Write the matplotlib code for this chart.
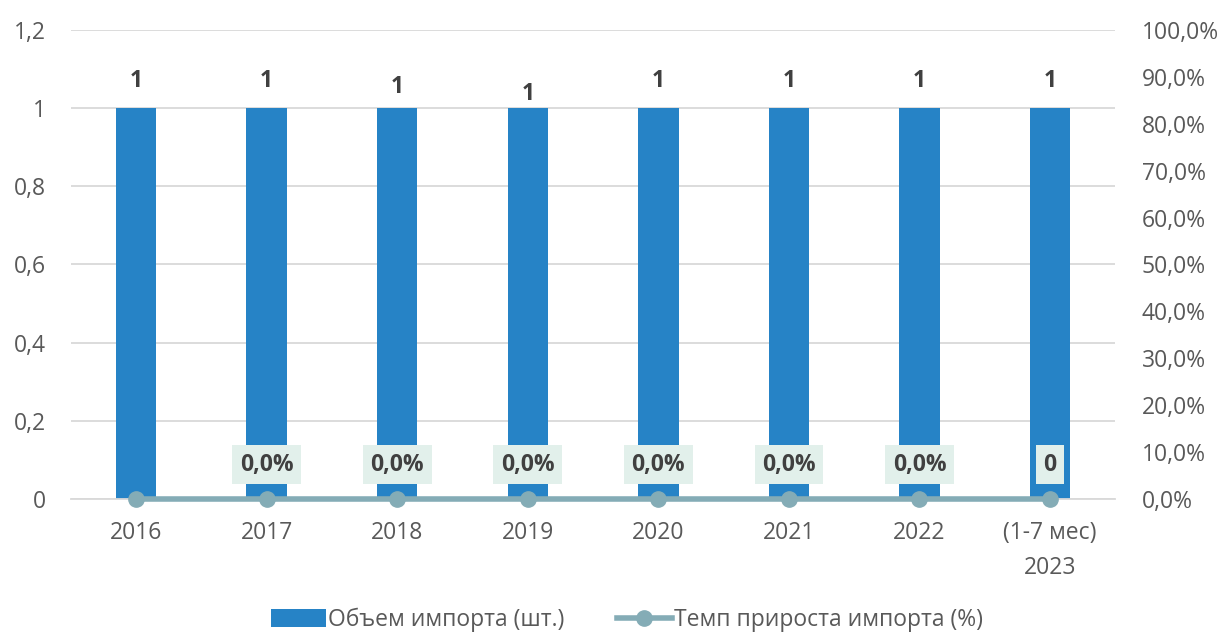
import numpy as np
import matplotlib.pyplot as plt
from matplotlib.ticker import FuncFormatter

plt.rcParams['font.family'] = ['Open Sans', 'DejaVu Sans']

# data
years = ['2016', '2017', '2018', '2019', '2020', '2021', '2022', '(1-7 мес)\n2023']
volume = [1, 1, 1, 1, 1, 1, 1, 1]
growth = [0, 0, 0, 0, 0, 0, 0, 0]
growth_labels = ['', '0,0%', '0,0%', '0,0%', '0,0%', '0,0%', '0,0%', '0']

bar_color = '#2683C6'
line_color = '#84ACB6'
text_color = '#595959'
fs = 16.5

fig = plt.figure(figsize=(12.22, 6.33), dpi=100)
ax = fig.add_axes([0.0579, 0.2117, 0.8548, 0.7409])
ax2 = ax.twinx()

x = np.arange(len(years))
bars = ax.bar(x, volume, width=0.31, color=bar_color, zorder=2, label='Объем импорта (шт.)')

ax.set_xlim(-0.5, len(years) - 0.5)
ax.set_ylim(0, 1.2)
ax.set_yticks(np.arange(0, 1.21, 0.2))
ax.yaxis.set_major_formatter(FuncFormatter(lambda v, p: ('%g' % round(v, 1)).replace('.', ',')))
ax.grid(axis='y', color='#D9D9D9', linewidth=1.3, zorder=0)
ax.set_axisbelow(True)
for s in ['top', 'right', 'left']:
    ax.spines[s].set_visible(False)
ax.spines['bottom'].set_color('#D9D9D9')
ax.spines['bottom'].set_linewidth(1.3)
ax.set_xticks(x)
ax.set_xticklabels(years, linespacing=1.6)
ax.tick_params(axis='y', length=0, labelsize=fs, colors=text_color, pad=18)
ax.tick_params(axis='x', length=0, labelsize=fs, colors=text_color, pad=16)

# value labels over bars (Excel placed a couple of them slightly lower)
label_dy = [0.07, 0.07, 0.055, 0.035, 0.07, 0.07, 0.07, 0.07]
for xi, v, dy in zip(x, volume, label_dy):
    ax.text(xi, v + dy, str(v), ha='center', va='center', fontsize=fs,
            fontweight='bold', color='#404040')

# growth line on secondary axis
line, = ax2.plot(x, growth, color=line_color, linewidth=4, marker='o',
                 markersize=11, zorder=3, clip_on=False, label='Темп прироста импорта (%)')
ax2.set_ylim(0, 1.0)
ax2.set_yticks(np.arange(0, 1.01, 0.1))
ax2.yaxis.set_major_formatter(FuncFormatter(lambda v, p: ('%.1f%%' % (v * 100)).replace('.', ',')))
ax2.tick_params(axis='y', length=0, labelsize=fs, colors=text_color, pad=19)
for s in ['top', 'right', 'left', 'bottom']:
    ax2.spines[s].set_visible(False)

for xi, g, lab in zip(x, growth, growth_labels):
    if lab:
        ax2.text(xi, g + 0.073, lab, ha='center', va='center', fontsize=fs,
                 fontweight='bold', color='#404040', zorder=4,
                 bbox=dict(boxstyle='square,pad=0.33', facecolor='#E2F0EB', edgecolor='none'))

fig.legend([bars, line], ['Объем импорта (шт.)', 'Темп прироста импорта (%)'],
           loc='lower center', bbox_to_anchor=(0.513, -0.031), ncol=2, frameon=False,
           fontsize=fs, labelcolor=text_color, handlelength=2.4, handleheight=0.8,
           columnspacing=2.3, handletextpad=0.1)

fig.savefig('out.png', dpi=100)
